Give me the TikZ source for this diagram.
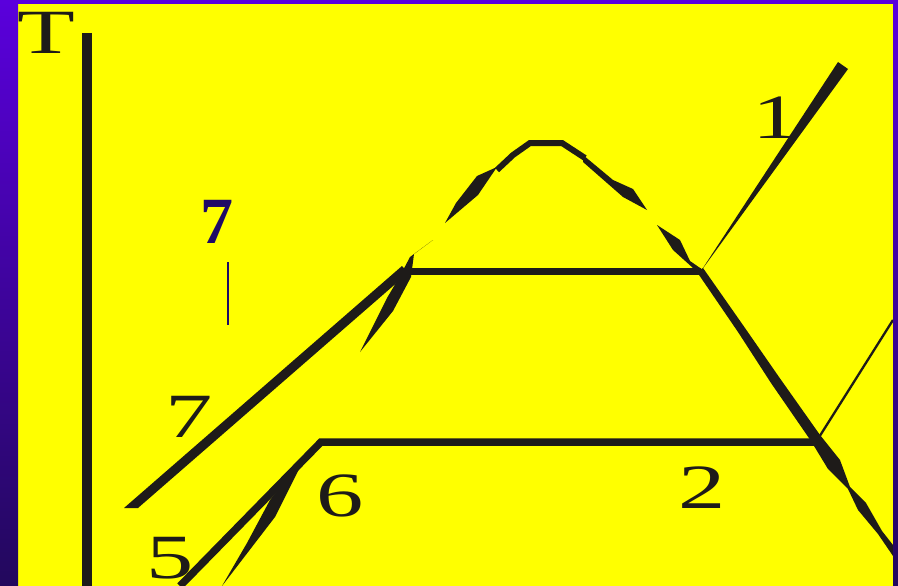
\documentclass[tikz,border=0pt]{standalone}
\usepackage{fontspec}
\setmainfont{Liberation Serif}
\definecolor{ink}{HTML}{1E1B19}
\definecolor{navy}{HTML}{1F0A66}
\definecolor{slide}{HTML}{FFFF00}
\definecolor{frametop}{HTML}{5A00DC}
\definecolor{framebot}{HTML}{22085C}

\begin{document}
\begin{tikzpicture}[x=1pt, y=-1pt, line join=miter,
    lbl/.style={inner sep=0pt, text=ink, xscale=1.5, font=\fontsize{63}{63}\selectfont},
    boldlbl/.style={inner sep=0pt, text=navy, font=\fontsize{66}{66}\selectfont\bfseries},
    curve/.style={draw=ink, line width=#1},
    blob/.style={fill=ink}]
    \useasboundingbox (0,0) rectangle (898,586);
    \fill[slide] (0,0) rectangle (898,586);

    % axis
    \draw[curve=10] (87,33) -- (87,586);
    \node[lbl] (T) at (46,33) {T};

    % liquid line 7 and upper isobar
    \coordinate (A) at (405,271);
    \coordinate (B) at (701,271);
    \fill[blob] (124,508) -- (402,266) -- (408,273) -- (138,508) -- cycle;
    \draw[curve=7] (A) -- (B);

    % dome (broken)
    \fill[blob] (360,352) -- (393,311) -- (411,277) -- (414,254) -- (433,240)
        -- (410,257) -- (400,276) -- (387,298) -- cycle;
    \fill[blob] (445,223) -- (456,203) -- (477,176) -- (497,167) -- (478,195) -- cycle;
    \draw[curve=6] (497,170) -- (513,155) -- (530,143) -- (562,143) -- (585,158);
    \fill[blob] (583,155) -- (613,180) -- (633,189) -- (647,210) -- (623,197) -- (583,162) -- cycle;
    \fill[blob] (657,225) -- (680,240) -- (690,261) -- (703,270) -- (693,268) -- (673,250) -- cycle;

    % right branch
    \fill[blob] (703,268) -- (745,328) -- (779,377) -- (820,435) -- (840,460) -- (850,487)
        -- (866,503) -- (882,531) -- (893,545) -- (893,556) -- (878,534) -- (858,510)
        -- (848,489) -- (828,469) -- (811,441) -- (771,383) -- (738,332) -- (697,272) -- cycle;

    % superheated lines
    \fill[blob] (B) -- (838,62) -- (848,69) -- cycle;
    \coordinate (C) at (816,442);
    \draw[ink, line width=2.3] (C) -- (893,320);

    % lower isobar
    \coordinate (D) at (321,442);
    \draw[curve=7.5] (180,586) -- (D) -- (C);
    \fill[blob] (312,448) -- (298,471) -- (275,517) -- (222,586) -- (247,543) -- (270,500) -- cycle;

    % labels
    \node[lbl] (one) at (776,118) {1};
    \node[lbl] (two) at (702,488) {2};
    \node[lbl] (five) at (170,558) {5};
    \node[lbl] (six) at (340,496) {6};
    \node[lbl] (seven) at (189,417) {7};
    \node[boldlbl] (sevenb) at (217,222) {7};
    \draw[navy, line width=2] (228,262) -- (228,325);

    % slide frame
    \shade[top color=frametop, bottom color=framebot] (0,0) rectangle (18,586);
    \shade[top color=frametop, bottom color=framebot] (893,0) rectangle (898,586);
    \fill[frametop] (0,0) rectangle (898,4);
\end{tikzpicture}
\end{document}
